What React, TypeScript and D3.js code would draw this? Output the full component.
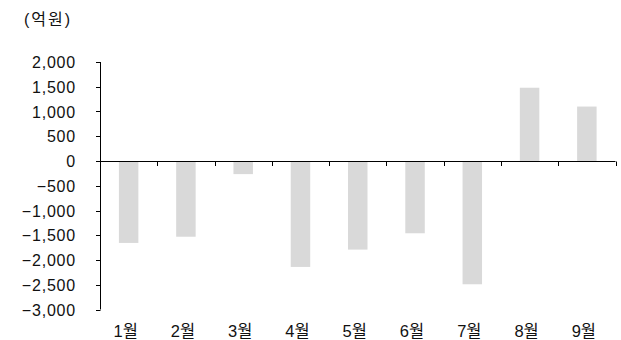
import React from "react";
import * as d3 from "d3";

const months = ["1월", "2월", "3월", "4월", "5월", "6월", "7월", "8월", "9월"];
const values = [-1655, -1530, -265, -2140, -1790, -1460, -2490, 1480, 1100];
const yTicks = [2000, 1500, 1000, 500, 0, -500, -1000, -1500, -2000, -2500, -3000];
const unitLabel = "(억원)";

const W = 621;
const H = 340;
const FONT = "'Liberation Sans', 'Noto Sans CJK KR', sans-serif";

export default function App() {
  const x = d3.scaleBand<string>().domain(months).range([100, 615.5]).paddingInner(0.66).paddingOuter(0.33);
  const y = d3.scaleLinear().domain([-3000, 2000]).range([309.5, 62]);
  const band = d3.scaleBand<string>().domain(months).range([100, 615.5]);
  const fmt = (v: number) => (v < 0 ? "\u2212" : "") + d3.format(",")(Math.abs(v));
  const y0 = Math.round(y(0)) + 0.5;

  return (
    <svg width={W} height={H} style={{ position: "absolute", left: 0, top: 0, background: "#fff" }}>
      <text x={24} y={25} fontFamily={FONT} fontSize={16} letterSpacing={2} fill="#111">{unitLabel}</text>
      {months.map((m, i) => {
        const v = values[i];
        const top = y(Math.max(0, v));
        const bot = y(Math.min(0, v));
        return <rect key={m} x={x(m)} y={top} width={x.bandwidth()} height={bot - top} fill="#d9d9d9" />;
      })}
      {/* y axis */}
      <line x1={100.5} x2={100.5} y1={y(2000)} y2={y(-3000)} stroke="#000" strokeWidth={1} />
      {yTicks.map((t) => (
        <g key={t}>
          <line x1={96} x2={100.5} y1={Math.round(y(t)) + 0.5} y2={Math.round(y(t)) + 0.5} stroke="#000" />
          <text x={76} y={y(t) + 6} textAnchor="end" fontFamily={FONT} fontSize={16} letterSpacing={0.8} fill="#111">
            {fmt(t)}
          </text>
        </g>
      ))}
      {/* zero line with category ticks */}
      <line x1={100} x2={615.5} y1={y0} y2={y0} stroke="#000" strokeWidth={1} />
      {months.map((m) => {
        const xr = Math.round((band(m) as number) + band.bandwidth()) + 0.5;
        return <line key={"t" + m} x1={xr} x2={xr} y1={y0} y2={y0 + 4.5} stroke="#000" />;
      })}
      {months.map((m) => (
        <text key={"l" + m} x={(band(m) as number) + band.bandwidth() / 2 - 3} y={337} textAnchor="middle" fontFamily={FONT} fontSize={16.5} fill="#111">
          {m}
        </text>
      ))}
    </svg>
  );
}
